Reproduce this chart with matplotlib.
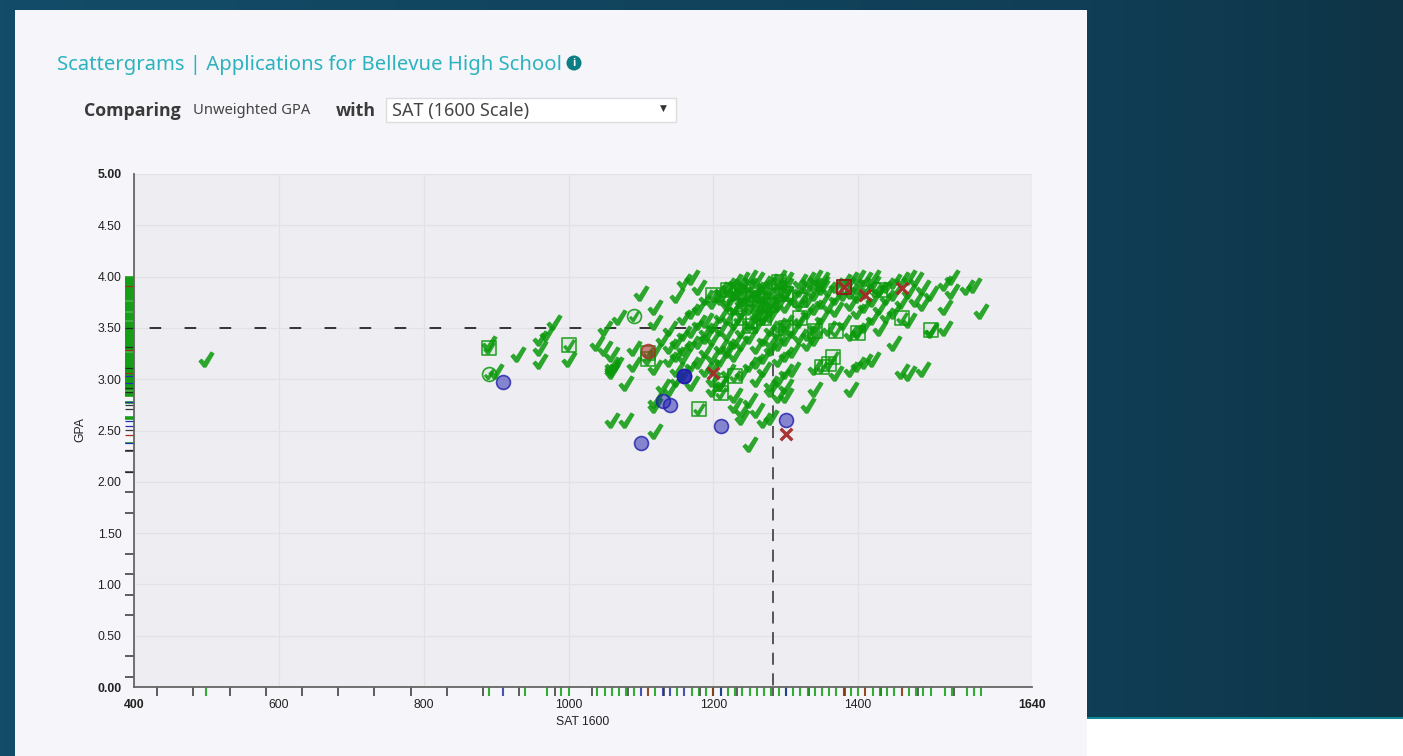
import numpy as np
import matplotlib
matplotlib.use('Agg')
import matplotlib.pyplot as plt
from matplotlib.colors import LinearSegmentedColormap
from matplotlib.path import Path
from matplotlib.patches import Rectangle, Circle

# (gpa, [sat, ...]) accepted applicants
check_rows = [
	(4.00, [1170, 1250, 1290, 1340, 1400, 1420, 1470, 1530]),
	(3.98, [1240, 1260, 1300, 1330, 1350, 1390, 1410, 1460, 1480]),
	(3.96, [1160, 1230, 1280, 1320, 1380, 1450]),
	(3.94, [1270, 1350, 1420, 1520]),
	(3.92, [1220, 1250, 1300, 1340, 1370, 1440, 1560]),
	(3.90, [1180, 1240, 1270, 1290, 1330, 1350, 1400, 1490, 1550]),
	(3.88, [1210, 1230, 1260, 1320, 1360, 1430]),
	(3.86, [1280, 1390, 1410, 1470, 1530]),
	(3.84, [1100, 1230, 1260, 1300, 1340, 1380, 1450, 1500]),
	(3.82, [1150, 1240, 1270, 1290, 1400]),
	(3.80, [1190, 1210, 1250, 1310, 1370, 1440]),
	(3.78, [1220, 1270, 1330, 1420, 1480]),
	(3.76, [1200, 1240, 1280, 1350, 1460]),
	(3.74, [1220, 1260, 1290, 1320, 1390, 1490]),
	(3.72, [1270, 1300, 1360, 1410]),
	(3.70, [1120, 1180, 1230, 1250, 1340, 1430, 1520]),
	(3.68, [1260, 1280, 1370]),
	(3.66, [1170, 1240, 1270, 1330, 1400, 1450, 1570]),
	(3.63, [1210, 1260, 1280, 1440]),
	(3.61, [1070, 1160, 1220, 1270, 1350, 1420]),
	(3.58, [1190, 1250, 1320, 1470]),
	(3.56, [980, 1120, 1180, 1230, 1300, 1380]),
	(3.53, [1200, 1260, 1290, 1340, 1410]),
	(3.50, [1050, 1140, 1210, 1280, 1360, 1430, 1520]),
	(3.48, [1170, 1190, 1240, 1310, 1400, 1500]),
	(3.45, [970, 1160, 1220, 1290, 1330, 1390]),
	(3.42, [1190, 1250, 1320]),
	(3.40, [960, 1130, 1200, 1270, 1300, 1340]),
	(3.37, [1150, 1180, 1230, 1280]),
	(3.35, [890, 1040, 1170, 1240, 1290, 1330, 1450]),
	(3.32, [1140, 1210, 1220, 1260]),
	(3.30, [960, 1050, 1090, 1160, 1280]),
	(3.28, [1120, 1190, 1220, 1310]),
	(3.25, [930, 1060, 1150, 1230, 1300]),
	(3.23, [1160, 1200, 1270]),
	(3.20, [500, 1000, 1140, 1210, 1290, 1420]),
	(3.18, [960, 1180, 1260, 1410]),
	(3.15, [1060, 1065, 1090, 1170, 1250, 1400]),
	(3.12, [1060, 1120, 1200, 1340]),
	(3.10, [1060, 1150, 1190, 1270, 1310, 1390, 1490]),
	(3.08, [900, 1060, 1220, 1300, 1460]),
	(3.06, [1160, 1240, 1370, 1470]),
	(3.00, [1150, 1200, 1260, 1290]),
	(2.96, [1080, 1170, 1210, 1280]),
	(2.93, [1130, 1300]),
	(2.90, [1140, 1200, 1280, 1340, 1390]),
	(2.85, [1230, 1290, 1300]),
	(2.80, [1120, 1250]),
	(2.75, [1120, 1230, 1330]),
	(2.70, [1240, 1260]),
	(2.63, [1240, 1280]),
	(2.60, [1060, 1080, 1270]),
	(2.50, [1120]),
	(2.37, [1250]),
]

square_sat = [890, 1000, 1110, 1180, 1210, 1210, 1230, 1200, 1220, 1235, 1245, 1260, 1230, 1250, 1270,
	1290, 1280, 1300, 1320, 1320, 1300, 1340, 1370, 1400, 1460, 1500, 1430, 1360, 1350, 1365, 1235, 1110]
square_gpa = [3.30, 3.33, 3.20, 2.71, 2.87, 2.95, 3.03, 3.82, 3.87, 3.85, 3.78, 3.82, 3.70, 3.52, 3.60,
	3.95, 3.72, 3.83, 3.77, 3.60, 3.50, 3.47, 3.47, 3.45, 3.60, 3.48, 3.87, 3.15, 3.12, 3.22, 3.60, 3.26]

circle_sat = [890, 1090, 1425]
circle_gpa = [3.05, 3.62, 3.88]

blue_sat = [910, 1130, 1140, 1100, 1160, 1160, 1160, 1210, 1300]
blue_gpa = [2.97, 2.79, 2.75, 2.38, 3.03, 3.03, 3.03, 2.54, 2.60]

red_circle_sat = [1110]
red_circle_gpa = [3.27]

x_sat = [1200, 1300, 1410, 1460, 1380]
x_gpa = [3.06, 2.47, 3.82, 3.89, 3.90]

dark_square_sat = [1380]
dark_square_gpa = [3.90]

# rug along the bottom
rug_sat_green = [500, 890, 940, 970, 990, 1000, 1040, 1050, 1060, 1070, 1080, 1090, 1120, 1150, 1170, 1180, 1190,
	1200, 1210, 1220, 1230, 1240, 1250, 1260, 1270, 1280, 1290, 1300, 1310, 1320, 1330, 1340, 1350, 1360,
	1370, 1390, 1400, 1420, 1430, 1440, 1450, 1470, 1480, 1490, 1500, 1520, 1530, 1550, 1560, 1570]
rug_sat_blue = [910, 1100, 1130, 1140, 1160, 1210, 1300]
rug_sat_red = [1110, 1200, 1380, 1410, 1460]

# rug along the left
rug_gpa_green = [2.84, 2.85, 2.86, 2.87, 2.88, 2.89, 2.90, 2.91, 2.92, 2.93, 2.94, 2.95, 2.96, 2.97, 2.98, 2.99,
	3.00, 3.01, 3.02, 3.03, 3.04, 3.05, 3.06, 3.07, 3.08, 3.09, 3.10, 3.11, 3.12, 3.13, 3.14, 3.15, 3.16, 3.17,
	3.18, 3.19, 3.20, 3.21, 3.22, 3.23, 3.24, 3.25, 3.26, 3.27, 3.28, 3.29, 3.30, 3.31, 3.32, 3.33, 3.34, 3.35,
	3.36, 3.37, 3.38, 3.39, 3.40, 3.41, 3.42, 3.43, 3.44, 3.45, 3.46, 3.47, 3.48, 3.49, 3.50, 3.51, 3.52, 3.53,
	3.54, 3.55, 3.56, 3.58, 3.59, 3.60, 3.61, 3.62, 3.63, 3.64, 3.65, 3.66, 3.67, 3.68, 3.69, 3.70, 3.71, 3.72,
	3.73, 3.74, 3.75, 3.77, 3.78, 3.79, 3.80, 3.81, 3.82, 3.83, 3.84, 3.85, 3.86, 3.87, 3.88, 3.89, 3.90, 3.91,
	3.92, 3.93, 3.94, 3.95, 3.96, 3.97, 3.98, 3.99, 4.00,
	2.78, 2.77, 2.62, 2.63, 2.61, 2.38]
rug_gpa_blue = [2.96, 2.78, 2.59, 2.54, 2.38, 3.03]
rug_gpa_red = [3.91, 3.28, 3.06, 2.46]
rug_gpa_dark = [3.50, 3.31, 3.11, 2.91, 2.875, 2.75, 2.71, 2.505, 2.31, 2.10]

x_major = [400, 600, 800, 1000, 1200, 1400, 1640]
x_tick_marks = [432, 482, 532, 582, 632, 682, 732, 782, 832, 882, 932, 982, 1032, 1082, 1132, 1182, 1232, 1282,
	1332, 1382, 1432, 1482, 1532]
y_major = [0.0, 0.5, 1.0, 1.5, 2.0, 2.5, 3.0, 3.5, 4.0, 4.5, 5.0]
y_tick_marks = [0.1, 0.3, 0.5, 0.7, 0.9, 1.1, 1.3, 1.5, 1.7, 1.9, 2.1, 2.3]

you_sat = 1282
you_gpa = 3.5

GREEN = '#0b9a0b'
GREEN_EDGE = (0.04, 0.6, 0.04, 0.85)
GREEN_FILL = (0.04, 0.6, 0.04, 0.05)
W, H = 1403, 756

check_verts = [(-0.50, -0.12), (-0.32, 0.04), (-0.14, -0.14), (0.28, 0.50), (0.50, 0.38), (-0.02, -0.50), (-0.20, -0.50)]
check_marker = Path(check_verts + [check_verts[0]], closed=True)


def main():
	plt.rcParams['font.family'] = ['Liberation Sans', 'DejaVu Sans']
	fig = plt.figure(figsize=(W / 100, H / 100), dpi=100)

	# page behind the chart, in pixel coordinates
	bg = fig.add_axes([0, 0, 1, 1])
	cmap = LinearSegmentedColormap.from_list('page', [(0, '#134c68'), (0.78, '#103e56'), (1, '#0e3446')])
	bg.imshow(np.linspace(0, 1, 256).reshape(1, -1), extent=(0, W, H, 0), aspect='auto', cmap=cmap)
	bg.set_xlim(0, W)
	bg.set_ylim(H, 0)
	bg.axis('off')
	bg.add_patch(Rectangle((1087, 717), W - 1087, 2, fc='#0b8a96', ec='none'))
	bg.add_patch(Rectangle((1087, 719), W - 1087, 37, fc='#ffffff', ec='none'))
	bg.add_patch(Rectangle((15, 10), 1072, 746, fc='#f5f5fa', ec='none'))

	head = ['Noto Sans', 'DejaVu Sans']
	bold = ['Open Sans', 'DejaVu Sans']
	bg.text(57, 65, 'Scattergrams | Applications for Bellevue High School', color='#2db3bf', fontsize=14.6,
		family=head, va='center')
	bg.add_patch(Circle((574, 63), 7.5, fc='#0b7d85', ec='none'))
	bg.text(574, 63, 'i', color='white', fontsize=8, weight='bold', ha='center', va='center', family=bold)
	bg.text(84, 111, 'Comparing', color='#3a3a3a', fontsize=12.8, weight='bold', family=bold, va='center')
	bg.text(193, 110, 'Unweighted GPA', color='#444444', fontsize=10.6, family=head, va='center')
	bg.text(336, 111, 'with', color='#3a3a3a', fontsize=12.8, weight='bold', family=bold, va='center')
	bg.add_patch(Rectangle((386, 98), 290, 24, fc='white', ec='#dddddd', lw=1))
	bg.text(392, 111, 'SAT (1600 Scale)', color='#444444', fontsize=13, family=head, va='center')
	bg.text(663, 108, '\u25bc', color='#333333', fontsize=6.5, family='DejaVu Sans', ha='center', va='center')

	ax = fig.add_axes([134 / W, (H - 687) / H, 898 / W, 513 / H])
	ax.set_facecolor('#ededf2')
	ax.set_xlim(400, 1640)
	ax.set_ylim(0, 5)
	ax.spines['top'].set_visible(False)
	ax.spines['right'].set_visible(False)
	ax.spines['left'].set_color('#666666')
	ax.spines['bottom'].set_color('#666666')
	ax.spines['left'].set_linewidth(1.3)
	ax.spines['bottom'].set_linewidth(1.3)

	ax.set_xticks(x_major)
	ax.set_xticklabels(['%d' % v for v in x_major], fontsize=8.8, color='#222222')
	ax.set_yticks(y_major)
	ax.set_yticklabels(['%.2f' % v for v in y_major], fontsize=8.8, color='#222222')
	ax.set_xticks(x_tick_marks, minor=True)
	ax.set_yticks(y_tick_marks, minor=True)
	ax.tick_params(axis='both', which='major', length=0, pad=9)
	ax.tick_params(axis='both', which='minor', length=6.5, width=1.1, color='#333333')
	for lab in [ax.get_xticklabels()[0], ax.get_xticklabels()[-1], ax.get_yticklabels()[0], ax.get_yticklabels()[-1]]:
		lab.set_fontweight('bold')
	ax.grid(True, which='major', color='#e2e2e5', lw=0.9)
	ax.set_axisbelow(True)
	ax.set_xlabel('SAT 1600', fontsize=8.8, color='#222222')
	ax.set_ylabel('GPA', fontsize=8.8, color='#222222')
	ax.xaxis.set_label_coords((583 - 134) / 898, -(722 - 687) / 513, transform=ax.transAxes)
	ax.xaxis.get_label().set_va('center')
	ax.yaxis.set_label_coords(-(134 - 80) / 898, (687 - 430) / 513, transform=ax.transAxes)
	ax.yaxis.get_label().set_va('center')

	# the applicant's own position
	ax.plot([400, you_sat], [you_gpa, you_gpa], color='#333333', lw=1.4, ls=(10, (6, 12)), zorder=2)
	ax.plot([you_sat, you_sat], [you_gpa, 0], color='#555555', lw=1.4, ls=(2.6, (6.2, 4.4)), zorder=2)

	# rugs
	xt = ax.get_xaxis_transform()
	yt = ax.get_yaxis_transform()
	rug_len_x = 9 / 513
	rug_len_y = 9 / 898
	ax.vlines(rug_sat_green, -rug_len_x, 0, transform=xt, color='#11a011', lw=1.5, alpha=0.85, clip_on=False)
	ax.vlines(rug_sat_blue, -rug_len_x, 0, transform=xt, color='#1a2aa0', lw=1.5, alpha=0.8, clip_on=False)
	ax.vlines(rug_sat_red, -rug_len_x, 0, transform=xt, color='#8a3a10', lw=1.5, alpha=0.9, clip_on=False)
	ax.hlines(rug_gpa_green, -rug_len_y, 0, transform=yt, color='#0b9a0b', lw=1.1, clip_on=False)
	ax.hlines(rug_gpa_blue, -rug_len_y, 0, transform=yt, color='#2030b0', lw=0.9, clip_on=False)
	ax.hlines(rug_gpa_red, -rug_len_y, 0, transform=yt, color='#a03020', lw=0.9, clip_on=False)
	ax.hlines(rug_gpa_dark, -rug_len_y, 0, transform=yt, color='#222222', lw=0.9, alpha=0.9, clip_on=False)

	check_sat = [s for gpa, sats in check_rows for s in sats]
	check_gpa = [gpa for gpa, sats in check_rows for s in sats]

	ax.scatter(check_sat, check_gpa, marker=check_marker, s=125, color=GREEN, alpha=0.85, lw=0.4, zorder=3)

	ax.scatter(square_sat, square_gpa, marker='s', s=100, fc=GREEN_FILL, ec=GREEN_EDGE, lw=1.2, zorder=4)
	ax.scatter(square_sat, square_gpa, marker=check_marker, s=80, color=GREEN, alpha=0.85, lw=0.2, zorder=4)

	ax.scatter(circle_sat, circle_gpa, marker='o', s=100, fc=GREEN_FILL, ec=GREEN_EDGE, lw=1.2, zorder=4)
	ax.scatter(circle_sat, circle_gpa, marker=check_marker, s=60, color=GREEN, alpha=0.85, lw=0.2, zorder=4)

	ax.scatter(blue_sat, blue_gpa, marker='o', s=100, fc=(0.12, 0.12, 0.68, 0.5), ec=(0.12, 0.12, 0.68, 0.8), lw=1.2, zorder=5)
	ax.scatter(red_circle_sat, red_circle_gpa, marker='o', s=100, fc=(0.7, 0.18, 0.18, 0.55), ec=(0.7, 0.18, 0.18, 0.85), lw=1.2, zorder=5)
	ax.scatter(dark_square_sat, dark_square_gpa, marker='s', s=100, fc='none', ec='#8b1a1a', lw=1.3, zorder=6)
	ax.scatter(x_sat, x_gpa, marker='x', s=70, color='#a52a2a', lw=2.4, alpha=0.95, zorder=6)

	fig.savefig('out.png', dpi=100)


if __name__ == '__main__':
	main()
